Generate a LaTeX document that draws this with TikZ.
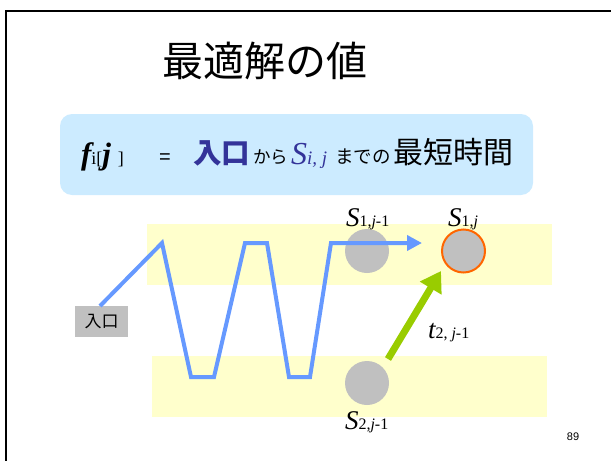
\documentclass[tikz,border=0pt]{standalone}
\usepackage{fontspec}
\setmainfont{Liberation Serif}
\newfontfamily\jp{Noto Sans CJK JP}
\newfontfamily\pagesans{Liberation Sans}
\usetikzlibrary{arrows.meta}
\definecolor{bandY}{HTML}{FFFFCC}
\definecolor{boxB}{HTML}{CCEBFF}
\definecolor{pathB}{HTML}{6699FF}
\definecolor{grn}{HTML}{99CC00}
\definecolor{org}{HTML}{FF6600}
\definecolor{gry}{HTML}{C0C0C0}
\definecolor{navy}{HTML}{333399}
\newcommand\fsz[1]{\fontsize{#1}{#1}\selectfont}
\tikzset{
  piece/.style={anchor=base west, inner sep=0pt, outer sep=0pt},
  state/.style={circle, fill=gry, minimum size=44pt, inner sep=0pt},
  band/.style={fill=bandY},
  route/.style={draw=pathB, line width=4pt, line join=miter},
}
\begin{document}
\begin{tikzpicture}[x=1pt,y=-1pt]
\useasboundingbox (0,0) rectangle (611,461);
% frame
\draw[line width=2.5pt] (611,11) -- (6,11) -- (6,461);
% title
\node[font=\jp\fsz{41}, inner sep=0pt] (title) at (265,61) {最適解の値};
% formula box
\fill[boxB, rounded corners=12pt] (60,114) rectangle (533,195);
\node[piece] (fij) at (81,164) {{\fsz{31}\bfseries\itshape f}{\fsz{18}i[}{\fsz{31}\bfseries\itshape j}\hspace{7pt}{\fsz{18}]}};
\node[piece, font=\pagesans\fsz{20}] (eq) at (159,163) {=};
\node[piece, font=\jp\fsz{28.5}\bfseries, text=navy] (ent) at (193,163) {入口};
\node[piece, font=\jp\fsz{17.5}] (kara) at (253,163) {から};
\node[piece, text=navy] (sij) at (291,164) {{\fsz{32}\itshape S}{\fsz{19}\itshape i, j}};
\node[piece, font=\jp\fsz{18.5}] (made) at (335,163) {までの};
\node[piece, font=\jp\fsz{30}] (short) at (393,163) {最短時間};
% bands
\fill[band] (147,224) rectangle (552,285);
\fill[band] (152,356) rectangle (547,417);
% states
\node[state] (s1p) at (367,251) {};
\node[state, draw=org, line width=2pt, minimum size=43pt] (s1j) at (463.5,251) {};
\node[state] (s2p) at (367,383) {};
% labels
\node[piece] (l1p) at (346,226) {{\fsz{27}\itshape S}{\fsz{16}1,\textit{j}-1}};
\node[piece] (l1j) at (448,226) {{\fsz{27}\itshape S}{\fsz{16}1,\textit{j}}};
\node[piece] (l2p) at (345,429) {{\fsz{27}\itshape S}{\fsz{16}2,\textit{j}-1}};
\node[piece] (lt) at (428,338) {{\fsz{27}\itshape t}{\fsz{16}2, \textit{j}-1}};
% entry
\node[fill=gry, minimum width=53pt, minimum height=31pt, inner sep=0pt, font=\jp\fsz{17}] (entry) at (101.5,321.5) {入口};
% route
\coordinate (r0) at (100,306);
\coordinate (r1) at (162,243);
\coordinate (r2) at (191,377);
\coordinate (r3) at (214,377);
\coordinate (r4) at (245,243);
\coordinate (r5) at (267,243);
\coordinate (r6) at (289,377);
\coordinate (r7) at (310,377);
\coordinate (r8) at (331,243);
\coordinate (r9) at (422,243);
\draw[route, -{Triangle[length=15pt,width=15pt]}] (r0) -- (r1) -- (r2) -- (r3) -- (r4) -- (r5) -- (r6) -- (r7) -- (r8) -- (r9);
% green transfer arrow
\coordinate (g0) at (388,359);
\coordinate (g1) at (441,271);
\draw[grn, line width=7pt, -{Triangle[length=20pt,width=24pt]}] (g0) -- (g1);
% page number
\node[font=\pagesans\fsz{11}, inner sep=0pt] (pg) at (573,437) {89};
\end{tikzpicture}
\end{document}
